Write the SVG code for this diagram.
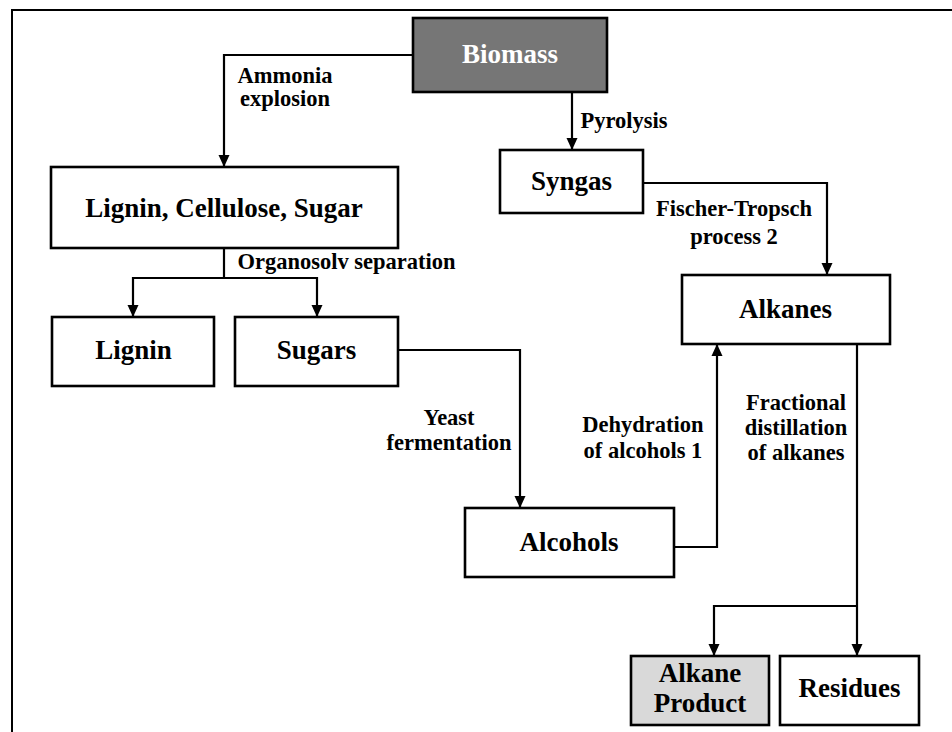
<svg xmlns="http://www.w3.org/2000/svg" width="952" height="732" viewBox="0 0 952 732">
  <style>
    .box { fill: #ffffff; stroke: #000000; stroke-width: 2.6; }
    .dark { fill: #767676; }
    .light { fill: #d9d9d9; }
    .node { font-family: "Liberation Serif", "Times New Roman", serif; font-weight: bold; font-size: 27px; fill: #000000; text-anchor: middle; }
    .node.white { fill: #ffffff; }
    .lbl { font-family: "Liberation Serif", "Times New Roman", serif; font-weight: bold; font-size: 22.5px; fill: #000000; text-anchor: middle; }
    .wire { fill: none; stroke: #000000; stroke-width: 2.2; }
    .frame { fill: none; stroke: #000000; stroke-width: 2; }
  </style>
  <defs>
    <marker id="arrow" markerUnits="userSpaceOnUse" markerWidth="12" markerHeight="12" viewBox="0 0 12 12" refX="12" refY="6" orient="auto">
      <path d="M0,0.5 L12,6 L0,11.5 Z" fill="#000000"/>
    </marker>
  </defs>

  <rect width="952" height="732" fill="#ffffff"/>
  <!-- outer frame: top and left edges only -->
  <path class="frame" d="M12,732 V10 H952"/>

  <!-- connectors -->
  <g id="connectors">
    <path class="wire" d="M413,55 H224 V167" marker-end="url(#arrow)"/>
    <path class="wire" d="M572,92 V150" marker-end="url(#arrow)"/>
    <path class="wire" d="M643,183 H827 V275" marker-end="url(#arrow)"/>
    <path class="wire" d="M224,248 V278 H133 V317" marker-end="url(#arrow)"/>
    <path class="wire" d="M224,278 H317 V317" marker-end="url(#arrow)"/>
    <path class="wire" d="M398,350 H520 V508" marker-end="url(#arrow)"/>
    <path class="wire" d="M674,547 H717 V344" marker-end="url(#arrow)"/>
    <path class="wire" d="M857,344 V656" marker-end="url(#arrow)"/>
    <path class="wire" d="M857,606 H714 V656" marker-end="url(#arrow)"/>

    <text class="lbl" x="285" y="83">Ammonia</text>
    <text class="lbl" x="285" y="106">explosion</text>
    <text class="lbl" x="624" y="128">Pyrolysis</text>
    <text class="lbl" x="734" y="216">Fischer-Tropsch</text>
    <text class="lbl" x="734" y="244">process 2</text>
    <text class="lbl" x="346.5" y="269">Organosolv separation</text>
    <text class="lbl" x="449" y="425">Yeast</text>
    <text class="lbl" x="449" y="450">fermentation</text>
    <text class="lbl" x="643" y="432">Dehydration</text>
    <text class="lbl" x="643" y="458">of alcohols 1</text>
    <text class="lbl" x="796" y="410">Fractional</text>
    <text class="lbl" x="796" y="435">distillation</text>
    <text class="lbl" x="796" y="460">of alkanes</text>
  </g>

  <g id="biomass">
    <rect class="box dark" x="413" y="18" width="194" height="74"/>
    <text class="node white" x="510" y="63">Biomass</text>
  </g>
  <g id="lignin-cellulose-sugar">
    <rect class="box" x="51" y="167" width="347" height="81"/>
    <text class="node" x="224" y="217">Lignin, Cellulose, Sugar</text>
  </g>
  <g id="syngas">
    <rect class="box" x="500" y="150" width="143" height="63"/>
    <text class="node" x="571.5" y="190">Syngas</text>
  </g>
  <g id="lignin">
    <rect class="box" x="52" y="317" width="162" height="69"/>
    <text class="node" x="133.5" y="359">Lignin</text>
  </g>
  <g id="sugars">
    <rect class="box" x="235" y="317" width="163" height="69"/>
    <text class="node" x="316.5" y="359">Sugars</text>
  </g>
  <g id="alkanes">
    <rect class="box" x="682" y="275" width="208" height="69"/>
    <text class="node" x="785.5" y="318">Alkanes</text>
  </g>
  <g id="alcohols">
    <rect class="box" x="465" y="508" width="209" height="69"/>
    <text class="node" x="569" y="551">Alcohols</text>
  </g>
  <g id="alkane-product">
    <rect class="box light" x="631" y="656" width="138" height="69"/>
    <text class="node" x="700" y="682">Alkane</text>
    <text class="node" x="700" y="712">Product</text>
  </g>
  <g id="residues">
    <rect class="box" x="780" y="656" width="139" height="69"/>
    <text class="node" x="849.5" y="697">Residues</text>
  </g>
</svg>
